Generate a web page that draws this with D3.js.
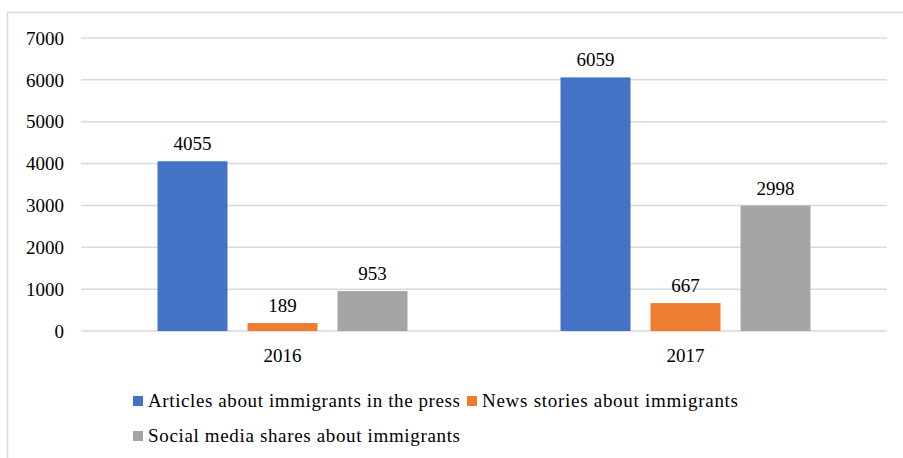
<!DOCTYPE html>
<html>
<head>
<meta charset="utf-8">
<script src="https://cdn.jsdelivr.net/npm/d3@7"></script>
<style>
  body { margin: 0; background: #fff; }
  text { font-family: "Liberation Serif", "Times New Roman", serif; fill: #000; }
</style>
</head>
<body>
<div id="chart"></div>
<script>
var years = ["2016", "2017"];
var seriesNames = ["Articles about immigrants in the press", "News stories about immigrants", "Social media shares about immigrants"];
var articles = [4055, 6059];
var news = [189, 667];
var social = [953, 2998];
var yTicks = [0, 1000, 2000, 3000, 4000, 5000, 6000, 7000];
var colors = ["#4472c4", "#ed7d31", "#a5a5a5"];

var w = 903, h = 458;
var svg = d3.select("#chart").append("svg").attr("width", w).attr("height", h);

// chart frame (only left/top visible in the crop)
svg.append("rect")
  .attr("x", 7.5).attr("y", 12.5)
  .attr("width", 1000).attr("height", 1000)
  .attr("fill", "none").attr("stroke", "#d9d9d9").attr("stroke-width", 1.5);

var pLeft = 81, pRight = 887, pTop = 38, pBottom = 331;

var y = d3.scaleLinear().domain([0, 7000]).range([pBottom, pTop]);
var x0 = d3.scaleBand().domain(years).range([pLeft, pRight]);
var x1 = d3.scaleBand().domain(d3.range(3)).range([76.5, 326.5]).paddingInner(20 / 90).paddingOuter(0);

// gridlines
svg.append("g").selectAll("line")
  .data(yTicks)
  .enter().append("line")
  .attr("x1", pLeft).attr("x2", pRight)
  .attr("y1", function(d) { return y(d); })
  .attr("y2", function(d) { return y(d); })
  .attr("stroke", "#d9d9d9").attr("stroke-width", 1.5);

// y labels
svg.append("g").selectAll("text")
  .data(yTicks)
  .enter().append("text")
  .attr("x", 64)
  .attr("y", function(d) { return y(d); })
  .attr("dy", "0.35em")
  .attr("text-anchor", "end")
  .style("font-size", "19px")
  .text(function(d) { return d; });

var table = years.map(function(yr, i) {
  return { year: yr, vals: [articles[i], news[i], social[i]] };
});

var groups = svg.selectAll(".grp")
  .data(table)
  .enter().append("g")
  .attr("class", "grp")
  .attr("transform", function(d) { return "translate(" + x0(d.year) + ",0)"; });

groups.selectAll("rect")
  .data(function(d) { return d.vals; })
  .enter().append("rect")
  .attr("x", function(d, i) { return x1(i); })
  .attr("width", x1.bandwidth())
  .attr("y", function(d) { return y(d); })
  .attr("height", function(d) { return pBottom - y(d); })
  .attr("fill", function(d, i) { return colors[i]; });

groups.selectAll(".lbl")
  .data(function(d) { return d.vals; })
  .enter().append("text")
  .attr("class", "lbl")
  .attr("x", function(d, i) { return x1(i) + x1.bandwidth() / 2; })
  .attr("y", function(d) { return y(d) - 11; })
  .attr("text-anchor", "middle")
  .style("font-size", "19px")
  .text(function(d) { return d; });

// x labels
svg.append("g").selectAll("text")
  .data(years)
  .enter().append("text")
  .attr("x", function(d) { return x0(d) + x0.bandwidth() / 2; })
  .attr("y", 362)
  .attr("text-anchor", "middle")
  .style("font-size", "19px")
  .text(function(d) { return d; });

// legend
var legendPos = [[133, 396], [467, 396], [133, 431]];
var legendLen = [312, 256, 312];
var lg = svg.append("g").selectAll("g")
  .data(seriesNames)
  .enter().append("g")
  .attr("transform", function(d, i) { return "translate(" + legendPos[i][0] + "," + legendPos[i][1] + ")"; });
lg.append("rect")
  .attr("width", 10).attr("height", 10)
  .attr("fill", function(d, i) { return colors[i]; });
lg.append("text")
  .attr("x", 15).attr("y", 11)
  .attr("textLength", function(d, i) { return legendLen[i]; })
  .attr("lengthAdjust", "spacing")
  .style("font-size", "19px")
  .text(function(d) { return d; });
</script>
</body>
</html>
